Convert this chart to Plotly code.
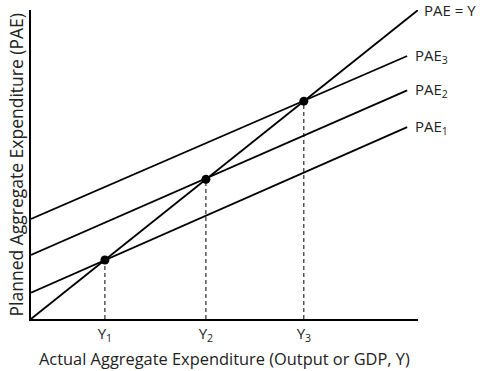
import plotly.graph_objects as go

# ---- data ----
x_range = [0, 9.72]
pae1 = [0.85, 6.21]
pae2 = [2.07, 7.40]
pae3 = [3.24, 8.51]
line45_x = [0, 10]
line45_y = [0, 10]
eq_x = [1.91, 4.52, 7.05]
eq_y = [1.91, 4.52, 7.05]
tick_labels = ["Y<sub>1</sub>", "Y<sub>2</sub>", "Y<sub>3</sub>"]
line_labels = ["PAE<sub>1</sub>", "PAE<sub>2</sub>", "PAE<sub>3</sub>"]

FONT = "Open Sans, Arial, sans-serif"
TXT = "#222"
fig = go.Figure()

line_style = dict(color="black", width=1.8)
for ys in (pae1, pae2, pae3):
    fig.add_trace(go.Scatter(x=x_range, y=ys, mode="lines", line=line_style,
                             hoverinfo="skip", showlegend=False))
fig.add_trace(go.Scatter(x=line45_x, y=line45_y, mode="lines", line=line_style,
                         hoverinfo="skip", showlegend=False))

# dashed drop lines
for xv, yv in zip(eq_x, eq_y):
    fig.add_trace(go.Scatter(x=[xv, xv], y=[0, yv], mode="lines",
                             line=dict(color="black", width=1, dash="4px,3px"),
                             hoverinfo="skip", showlegend=False))

fig.add_trace(go.Scatter(x=eq_x, y=eq_y, mode="markers",
                         marker=dict(color="black", size=9),
                         hoverinfo="skip", showlegend=False))

annotations = []
for ys, lab in zip((pae1, pae2, pae3), line_labels):
    annotations.append(dict(x=x_range[1], y=ys[1], text=lab, xref="x", yref="y",
                            xanchor="left", yanchor="middle", xshift=6, showarrow=False,
                            font=dict(size=15, color=TXT, family=FONT)))
annotations.append(dict(x=line45_x[1], y=line45_y[1], text="PAE = Y", xref="x", yref="y",
                        xanchor="left", yanchor="middle", xshift=4, showarrow=False,
                        font=dict(size=15, color=TXT, family=FONT)))
annotations.append(dict(x=0.5, y=0, xref="paper", yref="paper", yshift=-39,
                        text="Actual Aggregate Expenditure (Output or GDP, Y)",
                        showarrow=False, xanchor="center", yanchor="middle",
                        font=dict(size=16.4, color=TXT, family=FONT)))
annotations.append(dict(x=0, y=0.5, xref="paper", yref="paper", xshift=-16,
                        text="Planned Aggregate Expenditure (PAE)", textangle=-90,
                        showarrow=False, xanchor="center", yanchor="middle",
                        font=dict(size=17.5, color=TXT, family=FONT)))

fig.update_layout(
    width=483, height=371,
    margin=dict(l=31, r=65, t=10, b=52),
    paper_bgcolor="white", plot_bgcolor="white",
    annotations=annotations,
    xaxis=dict(range=[0, 10], showgrid=False, zeroline=False,
               showline=True, linecolor="black", linewidth=1.5,
               tickvals=eq_x, ticktext=tick_labels, ticks="",
               tickfont=dict(size=15, color=TXT, family=FONT)),
    yaxis=dict(range=[0, 10], showgrid=False, zeroline=False,
               showline=True, linecolor="black", linewidth=1.5,
               showticklabels=False, ticks=""),
)
fig.write_html("out.html", config={"displayModeBar": False},
               post_script="document.body.style.margin='0';")
